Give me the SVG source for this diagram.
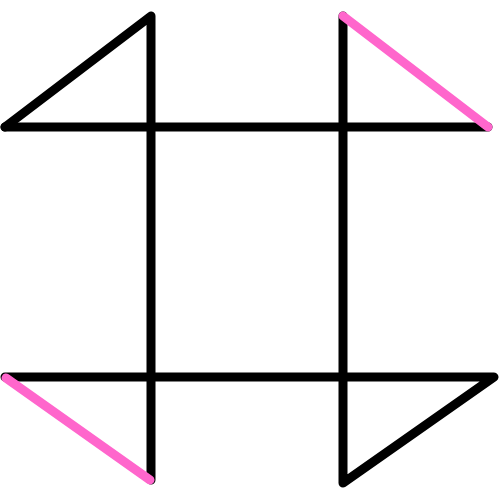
<svg xmlns="http://www.w3.org/2000/svg" width="500" height="500" viewBox="0 0 500 500">
<style>
.k{stroke:#000;stroke-width:9;fill:none;stroke-linecap:round;stroke-linejoin:round}
.p{stroke:#ff66cc;stroke-width:9;fill:none;stroke-linecap:round}
</style>
<rect width="500" height="500" fill="#fff"/>
<g id="connectors">
<polyline class="k" points="5,127 151,16 151,480"/>
<polyline class="k" points="343,16 343,483 494,377 5,377"/>
<line class="k" x1="5" y1="127" x2="488" y2="127"/>
<line class="p" x1="343" y1="16" x2="488" y2="127"/>
<line class="p" x1="6" y1="378" x2="150" y2="480"/>
</g>
</svg>
